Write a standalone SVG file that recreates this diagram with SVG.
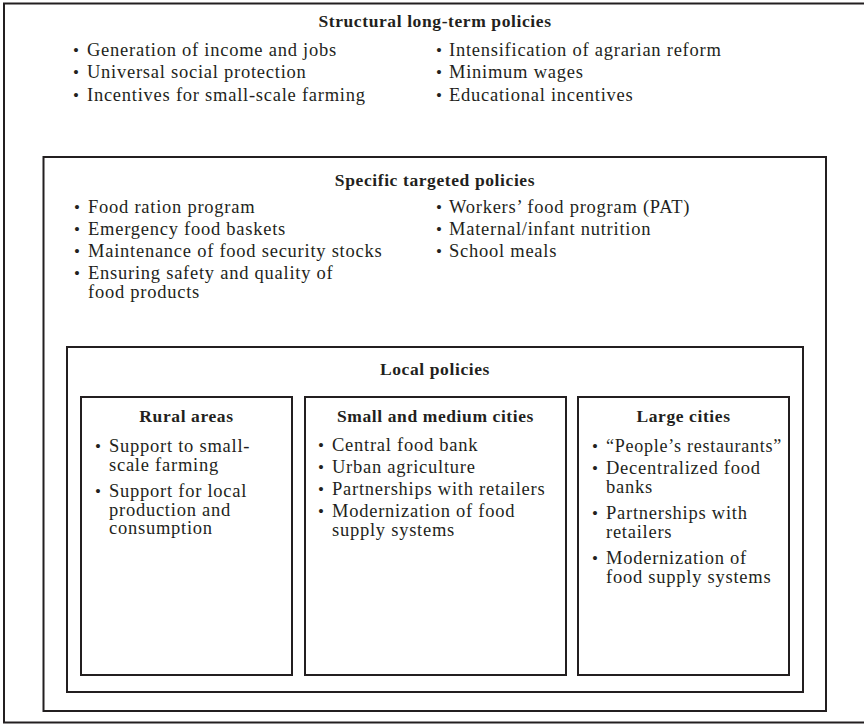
<svg xmlns="http://www.w3.org/2000/svg" width="864" height="724" viewBox="0 0 864 724">
<style>
.box{fill:none;stroke:#231f20;stroke-width:2}
.t{font-family:"Liberation Serif","Times New Roman",serif;font-size:18.5px;letter-spacing:0.75px;fill:#231f20}
.h{font-family:"Liberation Serif","Times New Roman",serif;font-size:17.5px;font-weight:bold;letter-spacing:0.6px;fill:#231f20;text-anchor:middle}
.b{font-family:"Liberation Serif","Times New Roman",serif;font-size:17px;fill:#231f20}
</style>
<rect x="0" y="0" width="864" height="724" fill="#ffffff"/>

<g id="structural">
<rect class="box" x="4" y="3.5" width="866" height="719"/>
<text class="h" x="435" y="27">Structural long-term policies</text>
<text class="b" x="73" y="56">•</text><text class="t" x="87" y="56">Generation of income and jobs</text>
<text class="b" x="73" y="78">•</text><text class="t" x="87" y="78">Universal social protection</text>
<text class="b" x="73" y="100.5">•</text><text class="t" x="87" y="100.5">Incentives for small-scale farming</text>
<text class="b" x="436" y="56">•</text><text class="t" x="449" y="56">Intensification of agrarian reform</text>
<text class="b" x="436" y="78">•</text><text class="t" x="449" y="78">Minimum wages</text>
<text class="b" x="436" y="100.5">•</text><text class="t" x="449" y="100.5">Educational incentives</text>
</g>

<g id="targeted">
<rect class="box" x="43.5" y="157" width="782.5" height="554"/>
<text class="h" x="435" y="186">Specific targeted policies</text>
<text class="b" x="74" y="213">•</text><text class="t" x="88" y="213">Food ration program</text>
<text class="b" x="74" y="235">•</text><text class="t" x="88" y="235">Emergency food baskets</text>
<text class="b" x="74" y="257">•</text><text class="t" x="88" y="257">Maintenance of food security stocks</text>
<text class="b" x="74" y="278.5">•</text><text class="t" x="88" y="278.5">Ensuring safety and quality of</text>
<text class="t" x="88" y="297.5">food products</text>
<text class="b" x="436" y="213">•</text><text class="t" x="449" y="213">Workers’ food program (PAT)</text>
<text class="b" x="436" y="235">•</text><text class="t" x="449" y="235">Maternal/infant nutrition</text>
<text class="b" x="436" y="257">•</text><text class="t" x="449" y="257">School meals</text>
</g>

<g id="local">
<rect class="box" x="67" y="347" width="736" height="345"/>
<text class="h" x="435" y="375">Local policies</text>
</g>

<g id="rural">
<rect class="box" x="81" y="397" width="211" height="278"/>
<text class="h" x="186.5" y="422">Rural areas</text>
<text class="b" x="95" y="452">•</text><text class="t" x="109" y="452">Support to small-</text>
<text class="t" x="109" y="471">scale farming</text>
<text class="b" x="95" y="497">•</text><text class="t" x="109" y="497">Support for local</text>
<text class="t" x="109" y="515.5">production and</text>
<text class="t" x="109" y="534">consumption</text>
</g>

<g id="small-medium">
<rect class="box" x="305" y="397" width="261" height="278"/>
<text class="h" x="435.5" y="422">Small and medium cities</text>
<text class="b" x="318" y="451">•</text><text class="t" x="332" y="451">Central food bank</text>
<text class="b" x="318" y="473">•</text><text class="t" x="332" y="473">Urban agriculture</text>
<text class="b" x="318" y="495">•</text><text class="t" x="332" y="495">Partnerships with retailers</text>
<text class="b" x="318" y="517">•</text><text class="t" x="332" y="517">Modernization of food</text>
<text class="t" x="332" y="536">supply systems</text>
</g>

<g id="large">
<rect class="box" x="578" y="397" width="211" height="278"/>
<text class="h" x="683.5" y="422">Large cities</text>
<text class="b" x="592" y="452">•</text><text class="t" x="606" y="452" textLength="176" lengthAdjust="spacingAndGlyphs">“People’s restaurants”</text>
<text class="b" x="592" y="474">•</text><text class="t" x="606" y="474">Decentralized food</text>
<text class="t" x="606" y="493">banks</text>
<text class="b" x="592" y="519">•</text><text class="t" x="606" y="519">Partnerships with</text>
<text class="t" x="606" y="538">retailers</text>
<text class="b" x="592" y="564">•</text><text class="t" x="606" y="564">Modernization of</text>
<text class="t" x="606" y="583">food supply systems</text>
</g>

<g id="connectors"/>
</svg>
